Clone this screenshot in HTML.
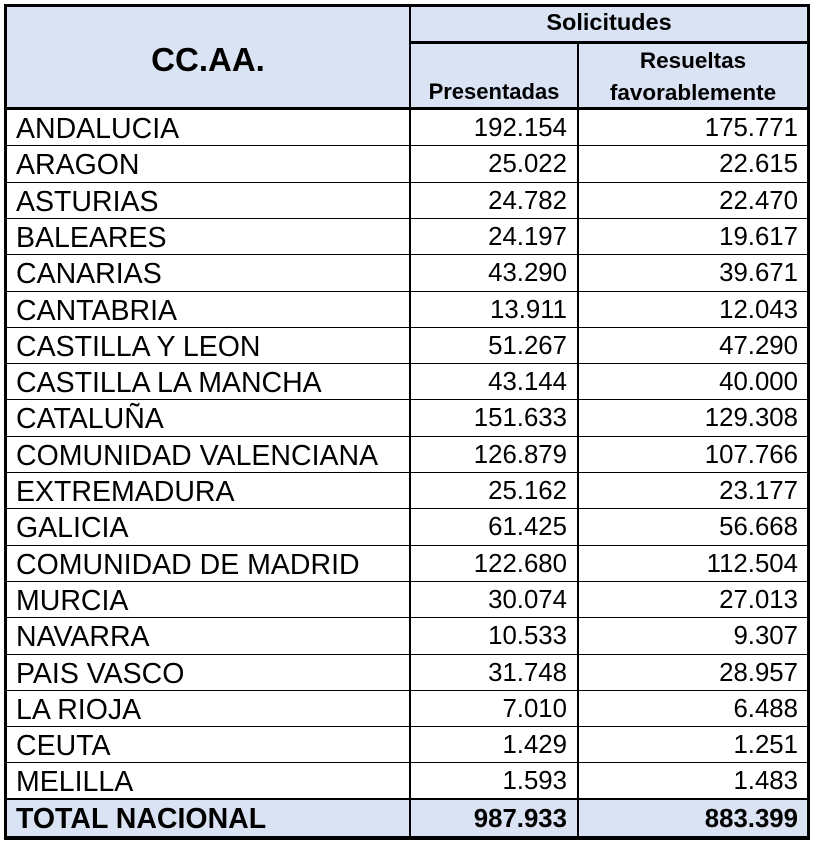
<!DOCTYPE html>
<html><head><meta charset="utf-8"><style>
body{margin:0;width:813px;height:843px;background:#fff;position:relative;overflow:hidden;font-family:"Liberation Sans",Arial,sans-serif;color:#000}
div{position:absolute;box-sizing:border-box}
.bg{background:#dae3f3}
.h{background:#000}
.t{white-space:nowrap}
.n{font-size:25.8px;text-align:right}
.c{font-size:28.5px}
.b{font-weight:bold}
</style></head><body>
<div class="bg" style="left:5px;top:5px;width:804px;height:103px"></div>
<div class="bg" style="left:5px;top:800px;width:804px;height:36px"></div>
<div class="h" style="left:4px;top:4px;width:806px;height:3px"></div>
<div class="h" style="left:4px;top:4px;width:3px;height:836px"></div>
<div class="h" style="left:807px;top:4px;width:3px;height:836px"></div>
<div class="h" style="left:4px;top:836px;width:806px;height:4px"></div>
<div class="h" style="left:409px;top:4px;width:2px;height:836px"></div>
<div class="h" style="left:409px;top:41px;width:400px;height:3px"></div>
<div class="h" style="left:577px;top:42px;width:2px;height:794px"></div>
<div class="h" style="left:4px;top:107px;width:806px;height:3px"></div>
<div class="h" style="left:4px;top:798px;width:806px;height:2px"></div>
<div class="t b" style="left:7px;width:402px;top:41px;text-align:center;font-size:33px">CC.AA.</div>
<div class="t b" style="left:411px;width:396px;top:9px;text-align:center;font-size:23.5px">Solicitudes</div>
<div class="t b" style="left:411px;width:166px;top:79px;text-align:center;font-size:22px">Presentadas</div>
<div class="t b" style="left:579px;width:228px;top:45px;text-align:center;font-size:22.5px;line-height:32px">Resueltas<br>favorablemente</div>
<script>
var d=[["ANDALUCIA","192.154","175.771"],["ARAGON","25.022","22.615"],["ASTURIAS","24.782","22.470"],["BALEARES","24.197","19.617"],["CANARIAS","43.290","39.671"],["CANTABRIA","13.911","12.043"],["CASTILLA Y LEON","51.267","47.290"],["CASTILLA LA MANCHA","43.144","40.000"],["CATALUÑA","151.633","129.308"],["COMUNIDAD VALENCIANA","126.879","107.766"],["EXTREMADURA","25.162","23.177"],["GALICIA","61.425","56.668"],["COMUNIDAD DE MADRID","122.680","112.504"],["MURCIA","30.074","27.013"],["NAVARRA","10.533","9.307"],["PAIS VASCO","31.748","28.957"],["LA RIOJA","7.010","6.488"],["CEUTA","1.429","1.251"],["MELILLA","1.593","1.483"]];
var h="";
for(var i=0;i<d.length;i++){var y=110+i*36.3;
 if(i>0)h+='<div class="h" style="left:4px;top:'+(y-1).toFixed(1)+'px;width:806px;height:1px"></div>';
 h+='<div class="t c" style="left:16px;top:'+(y+3).toFixed(1)+'px">'+d[i][0]+'</div>';
 h+='<div class="t n" style="left:411px;width:156px;top:'+(y+4).toFixed(1)+'px">'+d[i][1]+'</div>';
 h+='<div class="t n" style="left:579px;width:219px;top:'+(y+4).toFixed(1)+'px">'+d[i][2]+'</div>';}
h+='<div class="t c b" style="left:16px;top:803px">TOTAL NACIONAL</div>';
h+='<div class="t n b" style="left:411px;width:156px;top:805px">987.933</div>';
h+='<div class="t n b" style="left:579px;width:219px;top:805px">883.399</div>';
document.body.insertAdjacentHTML("beforeend",h);
</script>
</body></html>
